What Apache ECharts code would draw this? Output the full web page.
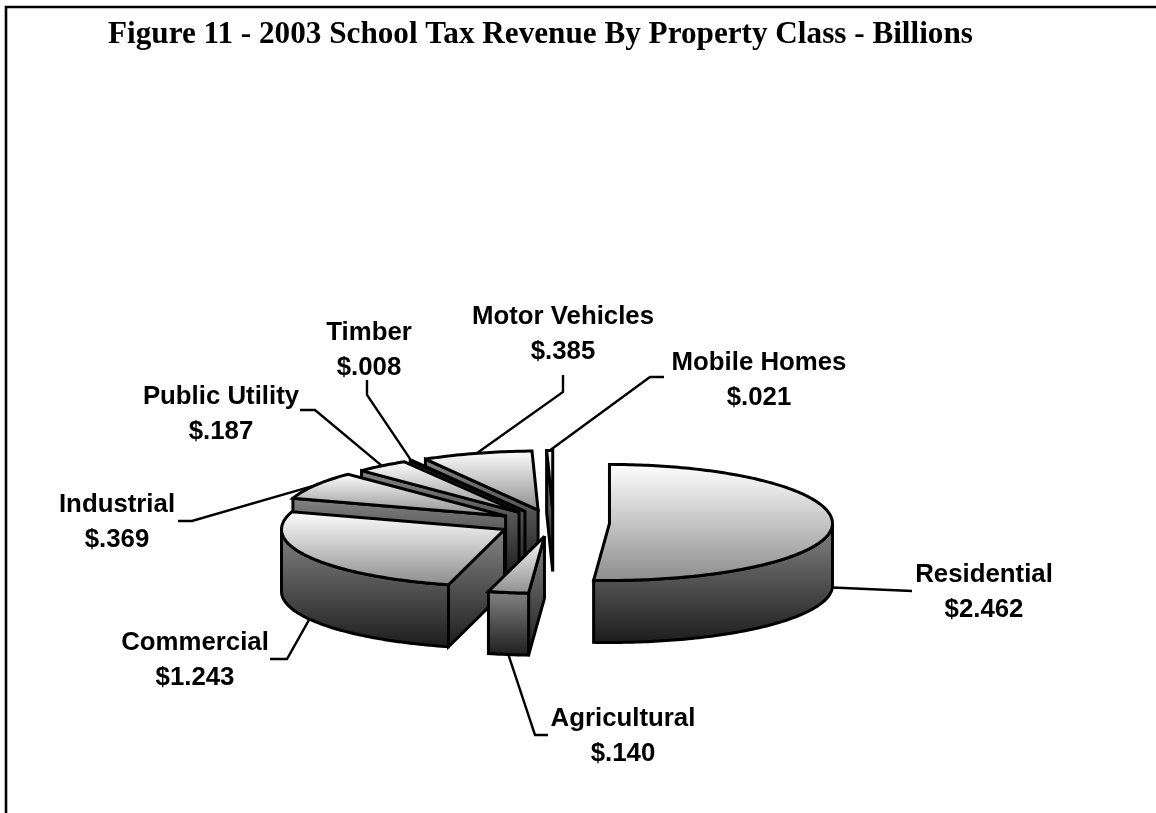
<!DOCTYPE html>
<html>
<head>
<meta charset="utf-8">
<style>html,body{margin:0;padding:0;background:#fff}#chart{width:1156px;height:813px}</style>
<script src="https://cdn.jsdelivr.net/npm/echarts@6/dist/echarts.min.js"></script>
</head>
<body>
<div id="chart"></div>
<script>
// School tax revenue by property class, in billions, clockwise from 12 o'clock.
const categories = ['Residential', 'Agricultural', 'Commercial', 'Industrial', 'Public Utility', 'Timber', 'Motor Vehicles', 'Mobile Homes'];
const revenue = [2.462, 0.140, 1.243, 0.369, 0.187, 0.008, 0.385, 0.021];
const chartTitle = 'Figure 11 - 2003 School Tax Revenue By Property Class - Billions';

// Callout placement for each slice: label centre and the elbow of its leader line.
const labelCentres = [[984, 592.5], [623, 736.5], [195, 660.5], [117, 522.5], [221, 414.5], [369, 350.5], [563, 334.5], [759, 380]];
const leaderElbows = [[912, 591], [535, 735], [287, 659], [192, 521], [315, 410], [367, 395], [563, 392], [650, 377]];
const leaderEnds = [null, [548, 735], [270, 659], [178, 521], [300, 410], [367, 380], [563, 375], [664, 377]];

// Pie projection: centre, radii of the tilted ellipse, thickness, explosion.
const pie = { cx: 553.5, cy: 523, rx: 223, ryBack: 59, ryFront: 57, depth: 62, explodeX: 56, explodeY: 13.5 };
const total = revenue.reduce((a, b) => a + b, 0);
const rad = d => d * Math.PI / 180;

const startAngles = [];
revenue.reduce((acc, v, i) => { startAngles[i] = acc; return acc + v / total * 360; }, 0);

function rimPoint(c, deg) {
  const cos = Math.cos(rad(deg));
  const ry = cos > 0 ? pie.ryBack : pie.ryFront;
  return [c[0] + pie.rx * Math.sin(rad(deg)), c[1] - ry * cos];
}
function arc(c, a0, a1) {
  const pts = [];
  const n = Math.max(1, Math.ceil(Math.abs(a1 - a0)));
  for (let k = 0; k <= n; k++) pts.push(rimPoint(c, a0 + (a1 - a0) * k / n));
  return pts;
}
const down = p => [p[0], p[1] + pie.depth];
const grad = (from, to) => new echarts.graphic.LinearGradient(0, 0, 0, 1, [
  { offset: 0, color: from }, { offset: 1, color: to }
]);
const outline = { stroke: '#000', lineWidth: 3, lineJoin: 'miter', miterLimit: 3 };

function renderSlice(params, api) {
  const i = api.value(1);
  const a0 = startAngles[i];
  const a1 = a0 + api.value(0) / total * 360;
  const mid = (a0 + a1) / 2;
  const c = [pie.cx + pie.explodeX * Math.sin(rad(mid)), pie.cy - pie.explodeY * Math.cos(rad(mid))];
  const base = (revenue.length - i) * 10;
  const kids = [];
  const sideFill = () => grad('#858585', '#1c1c1c');
  const addPoly = (points, fill, z) => kids.push({
    type: 'polygon', z2: base + z, shape: { points },
    style: Object.assign({ fill }, outline)
  });

  // Only the cut face turned towards the viewer is drawn, then the rim front, then the top.
  const faceAngle = Math.sin(rad(a0)) < 0 ? a0 : (Math.sin(rad(a1)) > 0 ? a1 : null);
  if (faceAngle !== null) {
    const p = rimPoint(c, faceAngle);
    addPoly([c, p, down(p), down(c)], sideFill(), 0);
  }
  const f0 = Math.max(a0, 90), f1 = Math.min(a1, 270);
  if (f1 > f0) {
    const edge = arc(c, f0, f1);
    addPoly(edge.concat(edge.map(down).reverse()), sideFill(), 1);
  }
  addPoly([c].concat(arc(c, a0, a1)), grad('#ffffff', '#8c8c8c'), 2);

  // Leader line from the rim at the slice's middle angle, plus its label.
  const anchor = rimPoint(c, mid);
  const start = Math.cos(rad(mid)) < 0.2 ? down(anchor) : anchor;
  const path = [start, leaderElbows[i]];
  if (leaderEnds[i]) path.push(leaderEnds[i]);
  kids.push({
    type: 'polyline', z2: 200, shape: { points: path },
    style: { stroke: '#000', lineWidth: 2.4, fill: null }
  });
  kids.push({
    type: 'text', z2: 200, x: labelCentres[i][0], y: labelCentres[i][1],
    style: {
      text: categories[i] + '\n$' + api.value(0).toFixed(3).replace(/^0/, ''),
      font: 'bold 25.8px "Liberation Sans", Arial, sans-serif',
      lineHeight: 35, fill: '#000', align: 'center', verticalAlign: 'middle'
    }
  });
  return { type: 'group', children: kids };
}

const chart = echarts.init(document.getElementById('chart'), null, { renderer: 'canvas' });
chart.setOption({
  backgroundColor: '#fff',
  animation: false,
  title: {
    text: chartTitle, left: 103, top: 14,
    textStyle: { fontFamily: '"Liberation Serif", "Times New Roman", serif', fontWeight: 'bold', fontSize: 31.2, color: '#000' }
  },
  graphic: [{
    type: 'polyline', silent: true,
    shape: { points: [[6, 813], [6, 7], [1156, 7]] },
    style: { stroke: '#000', lineWidth: 2.6, fill: null, lineJoin: 'miter' }
  }],
  series: [{
    type: 'custom',
    coordinateSystem: 'none',
    renderItem: renderSlice,
    silent: true,
    data: revenue.map((v, i) => ({ name: categories[i], value: [v, i] }))
  }]
});
</script>
</body>
</html>
